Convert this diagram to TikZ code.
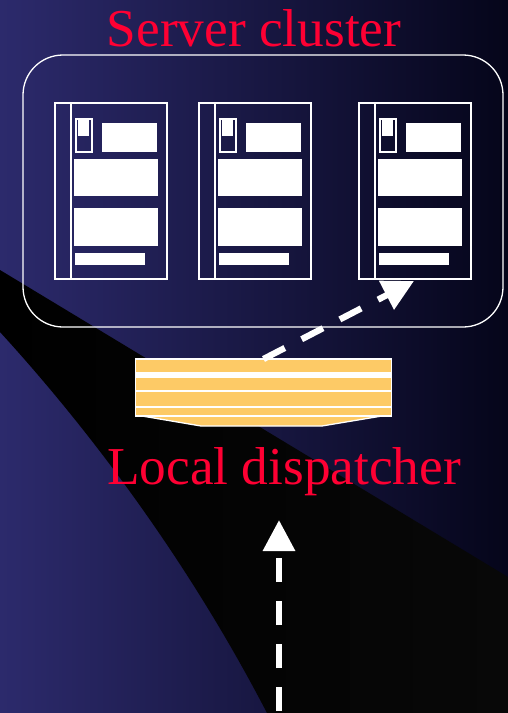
\documentclass[tikz,border=0pt]{standalone}
\usepackage{fontspec}
\setmainfont{Liberation Serif}
\usepackage{xcolor}
\usetikzlibrary{arrows.meta,positioning}
\definecolor{bgleft}{HTML}{2C2A6C}
\definecolor{bgright}{HTML}{05051A}
\definecolor{bandgrey}{HTML}{080808}
\definecolor{dispfill}{HTML}{FDCA66}
\definecolor{titlered}{HTML}{FF0033}
\tikzset{
  outline/.style={draw=white,line width=1.3pt},
  caption/.style={titlered,anchor=base,inner sep=0pt,font=\fontsize{53.3}{55}\selectfont},
  servercase/.style={outline,rectangle,inner sep=0pt,outer sep=0pt,minimum width=112pt,minimum height=176pt},
  flowarrow/.style={white,line width=6.3pt,dash pattern=on 24pt off 19pt,-{Triangle[length=31pt,width=31pt]}}
}
\begin{document}
\begin{tikzpicture}[x=1pt,y=-1pt]
            \useasboundingbox (0,0) rectangle (508,713);
            \shade[left color=bgleft,right color=bgright] (0,0) rectangle (508,713);
            \shade[left color=black,right color=bandgrey] (0,270) -- (508,577) -- (508,713) -- (267,713)
              .. controls (185,555) and (85,425) .. (0,332) -- cycle;
            % cluster outline
            \node[caption] (clustertitle) at (254,46) {Server cluster};
            \draw[outline,rounded corners=40pt] (23,55) rectangle (503,327);
            % the three servers
            \foreach \x/\name in {55/a,199/b,359/c}{
              \node[servercase] (server\name) at (\x+56,191) {};
              \begin{scope}[shift={(\x,0)}]
                \draw[outline] (16,103) -- (16,279);
                \draw[outline] (21,119) rectangle (37,152);
                \fill[white] (23,119) rectangle (34,136);
                \fill[white] (47,123) rectangle (102,152);
                \fill[white] (19,159) rectangle (103,196);
                \fill[white] (19,208) rectangle (103,246);
                \fill[white] (20,253) rectangle (90,265);
              \end{scope}
            }
            % dispatcher
            \draw[outline,fill=dispfill] (142,416) -- (201,426) -- (322,426) -- (382,416);
            \node[outline,fill=dispfill,rectangle,inner sep=0pt,outer sep=0pt,minimum width=256pt,minimum height=57pt] (dispatcher) at (263.5,387.5) {};
            \fill[white] (136,372) rectangle (391,378);
            \foreach \y in {391,407}{\draw[outline] (135,\y) -- (392,\y);}
            \node[caption] (disptitle) at (284,484) {Local dispatcher};
            % arrows
            \coordinate (clusterin) at (414,281);
            \coordinate (entrybottom) at (279,711);
            \coordinate (entrytip) at (279,520);
            \draw[flowarrow] (dispatcher.north) -- (clusterin);
            \draw[flowarrow] (entrybottom) -- (entrytip);
        \end{tikzpicture}
\end{document}
